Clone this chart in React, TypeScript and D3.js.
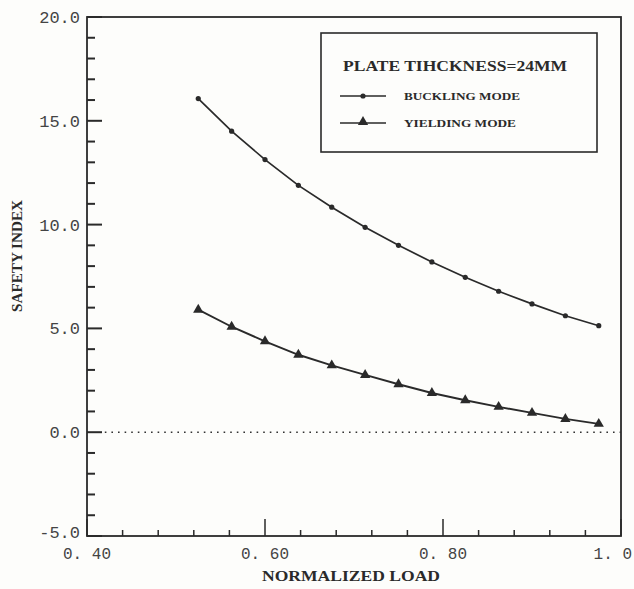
import React from "react";
import * as d3 from "d3";

const loads = [0.525, 0.5625, 0.6, 0.6375, 0.675, 0.7125, 0.75, 0.7875, 0.825, 0.8625, 0.9, 0.9375, 0.975];
const buckling = [16.07, 14.5, 13.13, 11.89, 10.84, 9.87, 9.0, 8.2, 7.46, 6.79, 6.18, 5.61, 5.13];
const yielding = [5.9, 5.08, 4.38, 3.73, 3.22, 2.76, 2.31, 1.89, 1.54, 1.22, 0.93, 0.64, 0.4];
const xMajor = [0.4, 0.6, 0.8, 1.0];
const xMajorLabels = ["0. 40", "0. 60", "0. 80", "1. 0"];
const yMajor = [-5, 0, 5, 10, 15, 20];
const yMajorLabels = ["-5.0", "0.0", "5.0", "10.0", "15.0", "20.0"];
const legendTitle = "PLATE TIHCKNESS=24MM";
const seriesNames = ["BUCKLING MODE", "YIELDING MODE"];

export default function App() {
  const W = 634, H = 589;
  const x = d3.scaleLinear().domain([0.4, 1.0]).range([87, 621]);
  const y = d3.scaleLinear().domain([-5, 20]).range([536, 17]);
  const ink = "#2a2a2a";
  const serif = "'Liberation Serif', 'DejaVu Serif', serif";
  const mono = "'Liberation Mono', 'DejaVu Sans Mono', monospace";

  const xMinor = d3.range(0, 16).map((i) => 0.4 + i * 0.04).filter((v) => !xMajor.some((m) => Math.abs(m - v) < 1e-6));
  const yMinor = d3.range(-5, 21, 1).filter((v) => v % 5 !== 0);

  const line = d3.line<number>().x((_, i) => x(loads[i])).y((d) => y(d));
  const tri = d3.symbol().type(d3.symbolTriangle).size(46)();

  const xLabelPos = (v: number, i: number) => {
    if (i === 0) return { x: x(v) - 24, anchor: "start" };
    if (i === xMajor.length - 1) return { x: 632, anchor: "end" };
    return { x: x(v), anchor: "middle" };
  };

  return (
    <svg width={W} height={H} style={{ position: "absolute", left: 0, top: 0, background: "#fff" }}>
      <rect x={0} y={0} width={W} height={H} fill="#fdfdfb" />
      {/* frame */}
      <rect x={x(0.4)} y={y(20)} width={x(1.0) - x(0.4)} height={y(-5) - y(20)} fill="none" stroke={ink} strokeWidth={1.8} />
      {/* y ticks */}
      {yMajor.map((v) => (
        <line key={"ym" + v} x1={x(0.4)} x2={x(0.4) + 15} y1={y(v)} y2={y(v)} stroke={ink} strokeWidth={2} />
      ))}
      {yMinor.map((v) => (
        <line key={"yn" + v} x1={x(0.4)} x2={x(0.4) + 8} y1={y(v)} y2={y(v)} stroke={ink} strokeWidth={2} />
      ))}
      {yMajor.map((v, i) => (
        <text key={"yl" + v} x={80} y={y(v) + (i === 0 ? 2 : 6)} textAnchor="end" fontFamily={mono} fontSize={17} fill="#444">
          {yMajorLabels[i]}
        </text>
      ))}
      {/* x ticks */}
      {xMajor.map((v) => (
        <line key={"xm" + v} x1={x(v)} x2={x(v)} y1={y(-5)} y2={y(-5) - 17} stroke={ink} strokeWidth={1.5} />
      ))}
      {xMinor.map((v) => (
        <line key={"xn" + v.toFixed(2)} x1={x(v)} x2={x(v)} y1={y(-5)} y2={y(-5) - 6} stroke={ink} strokeWidth={1.5} />
      ))}
      {xMajor.map((v, i) => {
        const p = xLabelPos(v, i);
        return (
          <text key={"xl" + v} x={p.x} y={559} textAnchor={p.anchor as any} fontFamily={mono} fontSize={16} fill="#444">
            {xMajorLabels[i]}
          </text>
        );
      })}
      {/* axis titles */}
      <text x={351} y={581} textAnchor="middle" fontFamily={serif} fontWeight="bold" fontSize={15} fill={ink} textLength={178} lengthAdjust="spacingAndGlyphs">
        NORMALIZED LOAD
      </text>
      <text transform={`translate(22,${256}) rotate(-90)`} textAnchor="middle" fontFamily={serif} fontWeight="bold" fontSize={14} fill={ink} textLength={112} lengthAdjust="spacingAndGlyphs">
        SAFETY INDEX
      </text>
      {/* zero line */}
      <line x1={x(0.42)} x2={x(1.0)} y1={y(0)} y2={y(0)} stroke="#333" strokeWidth={1.6} strokeDasharray="1.6 5" />
      {/* series */}
      <path d={line(buckling) || ""} fill="none" stroke={ink} strokeWidth={1.7} />
      <path d={line(yielding) || ""} fill="none" stroke={ink} strokeWidth={1.9} />
      {buckling.map((v, i) => (
        <circle key={"b" + i} cx={x(loads[i])} cy={y(v)} r={2.6} fill={ink} />
      ))}
      {yielding.map((v, i) => (
        <path key={"t" + i} d={tri || ""} transform={`translate(${x(loads[i])},${y(v)})`} fill={ink} />
      ))}
      {/* legend */}
      <rect x={321} y={33} width={276} height={119} fill="#fdfdfb" stroke={ink} strokeWidth={1.6} />
      <text x={455} y={71} textAnchor="middle" fontFamily={serif} fontWeight="bold" fontSize={15} fill={ink} textLength={224} lengthAdjust="spacingAndGlyphs">
        {legendTitle}
      </text>
      <line x1={340} x2={386} y1={96} y2={96} stroke={ink} strokeWidth={1.5} />
      <circle cx={363} cy={96} r={2.6} fill={ink} />
      <text x={404} y={100} fontFamily={serif} fontWeight="bold" fontSize={10} fill={ink} textLength={116} lengthAdjust="spacingAndGlyphs">
        {seriesNames[0]}
      </text>
      <line x1={340} x2={386} y1={123} y2={123} stroke={ink} strokeWidth={1.5} />
      <path d={tri || ""} transform="translate(363,122)" fill={ink} />
      <text x={404} y={127} fontFamily={serif} fontWeight="bold" fontSize={10} fill={ink} textLength={112} lengthAdjust="spacingAndGlyphs">
        {seriesNames[1]}
      </text>
    </svg>
  );
}
